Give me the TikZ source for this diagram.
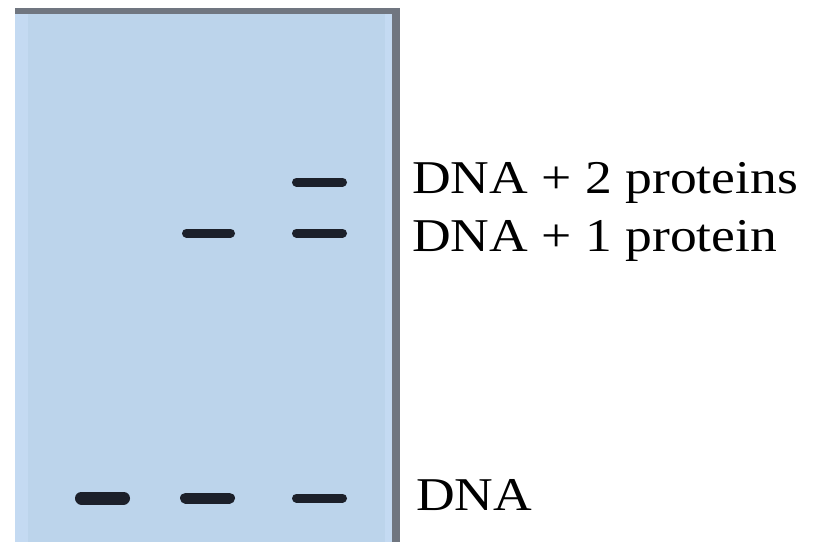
\documentclass[tikz,border=0pt]{standalone}
\usepackage{fontspec}
\setmainfont{Liberation Serif}
\definecolor{gelblue}{RGB}{188,212,235}
\definecolor{gelhi}{RGB}{196,218,242}
\definecolor{rimgray}{RGB}{112,118,128}
\definecolor{bandcol}{RGB}{28,32,42}
\tikzset{
  band/.style={draw=bandcol, line cap=round},
  lbl/.style={anchor=base west, inner sep=0pt, xscale=1.14, font=\fontsize{47}{56}\selectfont}
}
\begin{document}
\begin{tikzpicture}[x=1pt,y=-1pt]
\useasboundingbox (0,0) rectangle (816,542);
\fill[white] (0,0) rectangle (816,542);
% gel
\fill[gelblue] (15,11) rectangle (396,542);
\fill[gelhi] (15,14) rectangle (28,542);
\fill[gelhi] (385,14) rectangle (392,542);
\fill[rimgray] (15,8) rectangle (400,14);
\fill[rimgray] (392,8) rectangle (400,542);
% bands
\draw[band, line width=13] (81.5,498) -- (123.5,498);
\draw[band, line width=11] (185.5,498) -- (229.5,498);
\draw[band, line width=9] (296.5,498) -- (342.5,498);
\draw[band, line width=9] (186.5,233) -- (230.5,233);
\draw[band, line width=9] (296.5,233) -- (342.5,233);
\draw[band, line width=9] (296.5,182) -- (342.5,182);
% labels
\node[lbl] (l2) at (412,193) {DNA + 2 proteins};
\node[lbl] (l1) at (412,251) {DNA + 1 protein};
\node[lbl] (l0) at (416,510) {DNA};
\end{tikzpicture}
\end{document}
